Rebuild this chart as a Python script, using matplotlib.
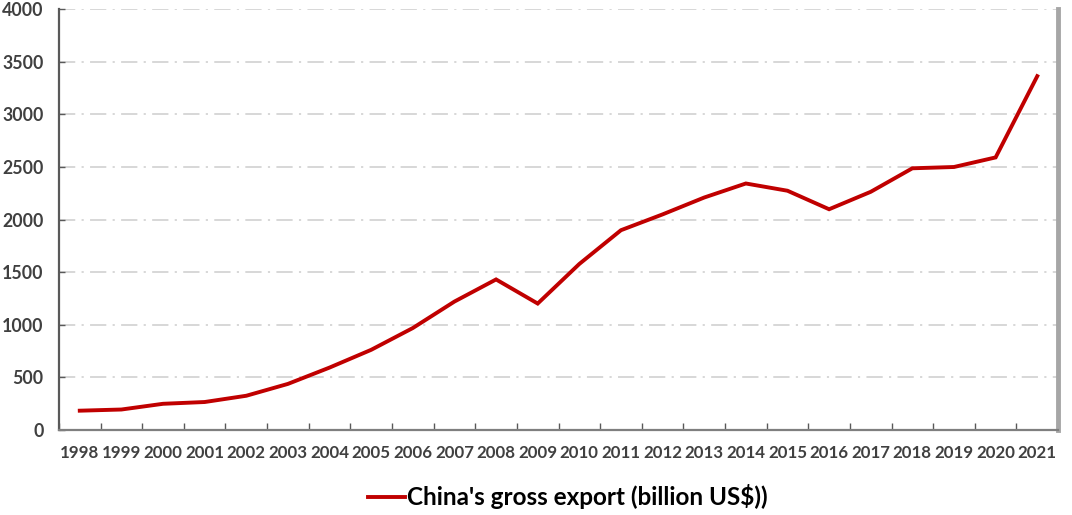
import numpy as np
import matplotlib
matplotlib.use('Agg')
import matplotlib.pyplot as plt
from matplotlib.ticker import FixedLocator

years = ['1998', '1999', '2000', '2001', '2002', '2003', '2004', '2005',
         '2006', '2007', '2008', '2009', '2010', '2011', '2012', '2013',
         '2014', '2015', '2016', '2017', '2018', '2019', '2020', '2021']
gross_export = [183.7, 194.9, 249.2, 266.1, 325.6, 438.2, 593.3, 762.0,
                969.0, 1220.5, 1430.7, 1201.6, 1577.8, 1898.4, 2048.7, 2209.0,
                2342.3, 2273.5, 2097.6, 2263.3, 2486.7, 2499.0, 2590.0, 3362.0]
y_ticks = [0, 500, 1000, 1500, 2000, 2500, 3000, 3500, 4000]
legend_label = "China's gross export (billion US$))"

plt.rcParams['font.family'] = ['Lato', 'DejaVu Sans']

fig = plt.figure(figsize=(10.72, 5.15), dpi=100)
ax = fig.add_axes([0.055, 0.165, 0.932, 0.8175])

x = np.arange(len(years))
ax.plot(x, gross_export, color='#c00000', linewidth=2.8, label=legend_label,
        solid_joinstyle='miter')

ax.set_xlim(-0.5, len(years) - 0.5)
ax.set_ylim(0, 4000)
ax.set_yticks(y_ticks)
ax.set_yticklabels([str(v) for v in y_ticks])
ax.set_xticks(x)
ax.set_xticklabels(years)
ax.xaxis.set_minor_locator(FixedLocator(np.arange(-0.5, len(years), 1.0)))

# dash-dot gridlines like the original
ax.grid(axis='y', color='#d4d4d4', linewidth=1.3, linestyle=(0, (9, 3.5, 1.2, 3.5)))
ax.set_axisbelow(True)

for label in ax.get_xticklabels():
    label.set_fontweight('bold')
    label.set_color('#404040')
    label.set_fontsize(12.2)
for label in ax.get_yticklabels():
    label.set_fontweight('bold')
    label.set_color('#404040')
    label.set_fontsize(12.8)

ax.tick_params(axis='x', which='major', length=0, pad=11)
ax.tick_params(axis='x', which='minor', direction='in', length=5, color='#595959', width=1)
ax.tick_params(axis='y', which='major', direction='in', length=4, color='#595959', width=1, pad=11)

ax.spines['left'].set_color('#595959')
ax.spines['left'].set_linewidth(1.6)
ax.spines['bottom'].set_color('#7f7f7f')
ax.spines['bottom'].set_linewidth(1.6)
ax.spines['top'].set_visible(False)
ax.spines['right'].set_color('#a6a6a6')
ax.spines['right'].set_linewidth(3.5)

leg = fig.legend(loc='center', bbox_to_anchor=(0.53, 0.035), frameon=False,
                 prop={'weight': 'bold', 'size': 17.5}, handlelength=1.5, handletextpad=0.1)

fig.savefig('out.png', dpi=100)
